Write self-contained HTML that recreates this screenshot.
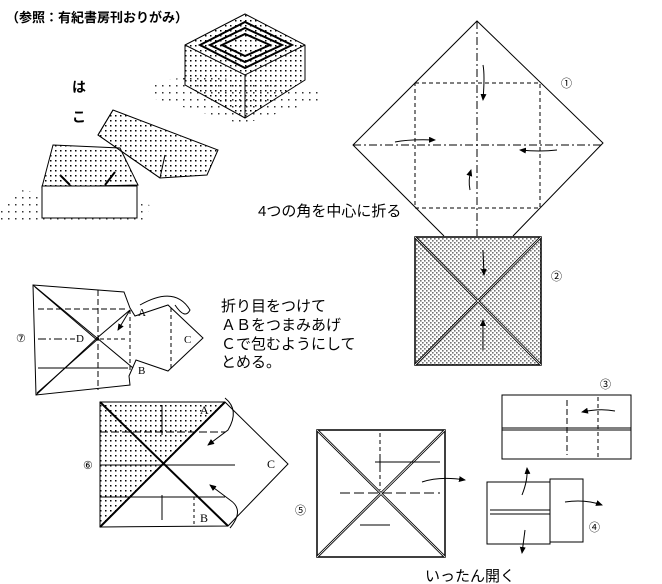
<!DOCTYPE html>
<html><head><meta charset="utf-8"><style>
html,body{margin:0;padding:0;background:#fff;}
svg{display:block;font-family:"Liberation Sans","Noto Sans CJK JP",sans-serif;}
</style></head><body>
<svg width="662" height="584" viewBox="0 0 662 584" xmlns="http://www.w3.org/2000/svg">
<defs>
<pattern id="dots" width="4" height="4" patternUnits="userSpaceOnUse"><rect x="0" y="0" width="1.6" height="1.6" fill="#000"/><rect x="2" y="2" width="1.6" height="1.6" fill="#000"/></pattern>
<pattern id="sdots" width="5" height="5" patternUnits="userSpaceOnUse"><rect x="0" y="0" width="1.5" height="1.5" fill="#000"/></pattern>
<pattern id="ldots" width="7" height="7" patternUnits="userSpaceOnUse"><rect x="1" y="1" width="1.5" height="1.5" fill="#000"/></pattern>
<marker id="ah" markerWidth="8" markerHeight="8" refX="6" refY="3" orient="auto"><path d="M0,0 L7,3 L0,6 z" fill="#000"/></marker>
</defs>
<g stroke="#000" fill="none" stroke-width="1">
<!-- title -->
<text x="6" y="22" font-size="13" font-weight="bold" fill="#000" stroke="none">（参照：有紀書房刊おりがみ）</text>
<text x="72" y="92" font-size="14" font-weight="bold" fill="#000" stroke="none">は</text>
<text x="72" y="122" font-size="14" font-weight="bold" fill="#000" stroke="none">こ</text>
<!-- top box -->
<polygon points="152,82 200,75 320,92 320,100 250,122 245,125 152,98" fill="url(#ldots)" stroke="none" opacity="0.8"/>
<polygon points="185,45 245,14 305,45 305,80 245,118 185,85" fill="url(#sdots)"/>
<polyline points="185,45 245,75 305,45"/><line x1="245" y1="75" x2="245" y2="118"/>
<polygon points="200,45 245,22 292,45 245,68" stroke-width="2"/>
<polygon points="210,45 245,28 282,45 245,62" stroke-width="2"/>
<polygon points="222,45 245,34 270,45 245,56" stroke-width="2"/>
<!-- lid -->
<polygon points="98,135 113,110 218,150 207,175 160,178" fill="url(#sdots)"/>
<polyline points="113,110 98,135 160,178"/><line x1="165" y1="155" x2="160" y2="178"/>
<!-- lower box -->
<polygon points="0,208 20,190 150,205 145,222 0,222" fill="url(#ldots)" stroke="none" opacity="0.8"/>
<polygon points="53,145 120,148 138,185 42,187" fill="url(#sdots)"/>
<rect x="42" y="186" width="95" height="32" fill="#fff"/>
<line x1="60" y1="175" x2="70" y2="185" stroke-width="2"/><line x1="115" y1="172" x2="105" y2="185" stroke-width="2"/>
<!-- text 1 -->
<text x="258" y="216" font-size="15" fill="#000" stroke="none">4つの角を中心に折る</text>
<!-- diagram 1 -->
<polyline points="444,236 353,145 477,21 603,143 513,236"/>
<rect x="415" y="83" width="125" height="125" stroke-dasharray="4,3"/>
<line x1="477" y1="21" x2="477" y2="236" stroke-dasharray="8,3,2,3"/>
<line x1="353" y1="145" x2="603" y2="145" stroke-dasharray="8,3,2,3"/>
<path d="M483,65 Q485,75 483,100" marker-end="url(#ah)"/>
<path d="M470,190 Q468,180 471,170" marker-end="url(#ah)"/>
<path d="M395,142 Q410,139 435,140" marker-end="url(#ah)"/>
<path d="M557,150 Q540,152 520,150" marker-end="url(#ah)"/>
<text x="561" y="87" font-size="11" fill="#000" stroke="none">①</text>
<!-- diagram 2 -->
<rect x="415" y="237" width="126" height="128" fill="url(#dots)" opacity="0.55" stroke="none"/>
<rect x="415" y="237" width="126" height="128" stroke-width="1.5"/>
<line x1="415" y1="237" x2="541" y2="365" stroke-width="2.5"/><line x1="541" y1="237" x2="415" y2="365" stroke-width="2.5"/>
<line x1="415" y1="237" x2="541" y2="365" stroke="#fff" stroke-width="0.8"/><line x1="541" y1="237" x2="415" y2="365" stroke="#fff" stroke-width="0.8"/>
<path d="M483,250 L484,275" marker-end="url(#ah)"/><path d="M483,350 L483,320" marker-end="url(#ah)"/>
<text x="551" y="280" font-size="11" fill="#000" stroke="none">②</text>
<!-- text 7 -->
<g fill="#000" stroke="none" font-size="15">
<text x="221" y="311">折り目をつけて</text>
<text x="221" y="330">ＡＢをつまみあげ</text>
<text x="221" y="349">Ｃで包むようにして</text>
<text x="221" y="367">とめる。</text>
</g>
<!-- diagram 7 -->
<polygon points="33,285 124,292 130,308 135,316 168,305 203,338 168,371 136,360 129,376 130,385 36,395"/>
<line x1="33" y1="285" x2="97" y2="338"/><line x1="36" y1="395" x2="97" y2="338"/>
<line x1="35" y1="287" x2="97" y2="340"/><line x1="37" y1="393" x2="99" y2="338"/>
<line x1="97" y1="338" x2="130" y2="310"/><line x1="97" y1="338" x2="133" y2="368"/>
<line x1="38" y1="309" x2="128" y2="309" stroke-dasharray="6,3"/><line x1="38" y1="368" x2="128" y2="368"/>
<line x1="38" y1="339" x2="75" y2="339" stroke-dasharray="8,3,2,3"/><line x1="100" y1="339" x2="128" y2="339" stroke-dasharray="4,3"/>
<line x1="98" y1="290" x2="98" y2="390" stroke-dasharray="6,3"/>
<line x1="130" y1="310" x2="130" y2="370" stroke-dasharray="4,3"/>
<line x1="171" y1="308" x2="171" y2="368" stroke-dasharray="4,3"/>
<path d="M140,305 Q175,285 190,310 Q185,320 175,305" />
<path d="M130,310 L118,330" marker-end="url(#ah)"/>
<g fill="#000" stroke="none" font-family="Liberation Serif,serif" font-size="11">
<text x="138" y="316">A</text><text x="138" y="374">B</text><text x="184" y="343">C</text><text x="76" y="342">D</text>
<text x="16" y="342">⑦</text></g>
<!-- diagram 6 -->
<polygon points="100,402 225,402 162,465 100,527" fill="url(#sdots)" stroke="none"/>
<polygon points="100,402 225,402 288,464 228,526 100,527"/>
<line x1="100" y1="402" x2="228" y2="526" stroke-width="2"/><line x1="225" y1="402" x2="100" y2="527" stroke-width="2"/>
<line x1="100" y1="432" x2="225" y2="432" stroke-dasharray="8,3"/><line x1="100" y1="497" x2="225" y2="497"/>
<line x1="100" y1="465" x2="235" y2="465"/>
<line x1="162" y1="405" x2="162" y2="435"/><line x1="162" y1="495" x2="162" y2="520"/>
<line x1="194" y1="497" x2="194" y2="526" stroke-dasharray="3,3"/>
<path d="M225,398 Q240,410 228,430 L208,445" marker-end="url(#ah)"/>
<path d="M230,528 Q245,510 230,500 L210,485" marker-end="url(#ah)"/>
<g fill="#000" stroke="none" font-family="Liberation Serif,serif" font-size="12">
<text x="200" y="414">A</text><text x="200" y="522">B</text><text x="267" y="468">C</text>
<text x="83" y="469" font-size="11">⑥</text></g>
<!-- diagram 5 -->
<rect x="317" y="430" width="128" height="127" stroke-width="1.5"/>
<line x1="317" y1="430" x2="445" y2="557" stroke-width="2.5"/><line x1="445" y1="430" x2="317" y2="557" stroke-width="2.5"/>
<line x1="317" y1="430" x2="445" y2="557" stroke="#fff" stroke-width="0.8"/><line x1="445" y1="430" x2="317" y2="557" stroke="#fff" stroke-width="0.8"/>
<line x1="380" y1="433" x2="380" y2="490" stroke-dasharray="4,3"/><line x1="380" y1="455" x2="380" y2="470"/>
<line x1="375" y1="462" x2="440" y2="462"/><line x1="360" y1="525" x2="390" y2="525"/>
<line x1="340" y1="493" x2="440" y2="493" stroke-dasharray="10,4"/>
<path d="M422,482 Q440,476 465,480" marker-end="url(#ah)"/>
<text x="295" y="514" font-size="11" fill="#000" stroke="none">⑤</text>
<!-- diagram 3 -->
<rect x="502" y="395" width="129" height="64"/><line x1="502" y1="430" x2="631" y2="430"/><line x1="502" y1="428" x2="631" y2="428"/>
<line x1="567" y1="400" x2="567" y2="455" stroke-dasharray="6,3"/>
<line x1="598" y1="397" x2="598" y2="457" stroke-dasharray="4,3"/>
<path d="M615,411 Q600,408 582,412" marker-end="url(#ah)"/>
<text x="600" y="388" font-size="11" fill="#000" stroke="none">③</text>
<!-- diagram 4 -->
<rect x="487" y="482" width="63" height="62"/><rect x="550" y="479" width="33" height="63"/>
<line x1="490" y1="510" x2="550" y2="510"/><line x1="490" y1="514" x2="550" y2="514"/>
<path d="M522,495 Q528,480 527,468" marker-end="url(#ah)"/>
<path d="M525,530 L522,553" marker-end="url(#ah)"/>
<path d="M565,502 Q585,499 602,505" marker-end="url(#ah)"/>
<text x="589" y="531" font-size="11" fill="#000" stroke="none">④</text>
<text x="425" y="581" font-size="15" fill="#000" stroke="none">いったん開く</text>
</g>
</svg>
</body></html>
